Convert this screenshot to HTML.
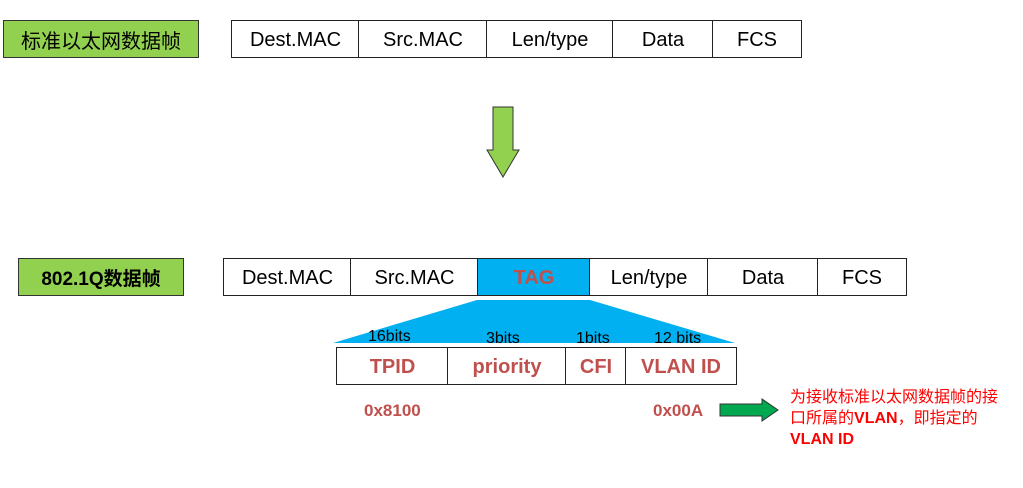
<!DOCTYPE html>
<html><head><meta charset="utf-8"><style>
body{margin:0;width:1023px;height:488px;background:#fff;position:relative;overflow:hidden;font-family:"Liberation Sans","Noto Sans CJK SC",sans-serif}
.a{position:absolute;box-sizing:border-box}
.lbl{background:#92d050;border:1.5px solid #333;font-size:19px;display:flex;align-items:center;justify-content:center}
.c{position:absolute;box-sizing:border-box;border:1.5px solid #222;display:flex;align-items:center;justify-content:center;font-size:20px;color:#000;background:#fff;padding-top:2px}
.r{color:#c0504d;font-weight:bold}
.t{position:absolute;font-size:16px;color:#000}
</style></head><body>
<div class="a lbl" style="left:3px;top:20px;width:196px;height:38px;font-size:20px">标准以太网数据帧</div>
<div class="c" style="left:231px;top:20px;width:129px;height:38px">Dest.MAC</div>
<div class="c" style="left:358px;top:20px;width:130px;height:38px">Src.MAC</div>
<div class="c" style="left:486px;top:20px;width:128px;height:38px">Len/type</div>
<div class="c" style="left:612px;top:20px;width:102px;height:38px">Data</div>
<div class="c" style="left:712px;top:20px;width:90px;height:38px">FCS</div>
<svg class="a" style="left:0;top:0" width="1023" height="488">
<polygon points="493,107 513,107 513,150 519,150 503,177 487,150 493,150" fill="#92d050" stroke="#333" stroke-width="1"/>
<polygon points="477,300 590,300 735,343 333,343" fill="#00b0f0"/>
<polygon points="720,404 762,404 762,399 778,410 762,421 762,416 720,416" fill="#00a850" stroke="#333" stroke-width="1"/>
</svg>
<div class="a lbl" style="left:18px;top:258px;width:166px;height:38px;font-weight:bold">802.1Q数据帧</div>
<div class="c" style="left:223px;top:258px;width:129px;height:38px">Dest.MAC</div>
<div class="c" style="left:350px;top:258px;width:129px;height:38px">Src.MAC</div>
<div class="c r" style="left:477px;top:258px;width:114px;height:38px;background:#00b0f0">TAG</div>
<div class="c" style="left:589px;top:258px;width:120px;height:38px">Len/type</div>
<div class="c" style="left:707px;top:258px;width:112px;height:38px">Data</div>
<div class="c" style="left:817px;top:258px;width:90px;height:38px">FCS</div>
<div class="t" style="left:368px;top:328px">16bits</div>
<div class="t" style="left:486px;top:330px">3bits</div>
<div class="t" style="left:576px;top:330px">1bits</div>
<div class="t" style="left:654px;top:330px">12 bits</div>
<div class="c r" style="left:336px;top:347px;width:113px;height:38px">TPID</div>
<div class="c r" style="left:447px;top:347px;width:120px;height:38px">priority</div>
<div class="c r" style="left:565px;top:347px;width:62px;height:38px">CFI</div>
<div class="c r" style="left:625px;top:347px;width:112px;height:38px">VLAN ID</div>
<div class="a r" style="left:364px;top:401px;font-size:17px">0x8100</div>
<div class="a r" style="left:653px;top:401px;font-size:17px">0x00A</div>
<div class="a" style="left:790px;top:387px;width:240px;color:#ff0000;font-size:16px;line-height:21px;white-space:nowrap">为接收标准以太网数据帧的接<br>口所属的<b>VLAN</b>，即指定的<br><b>VLAN ID</b></div>
</body></html>
